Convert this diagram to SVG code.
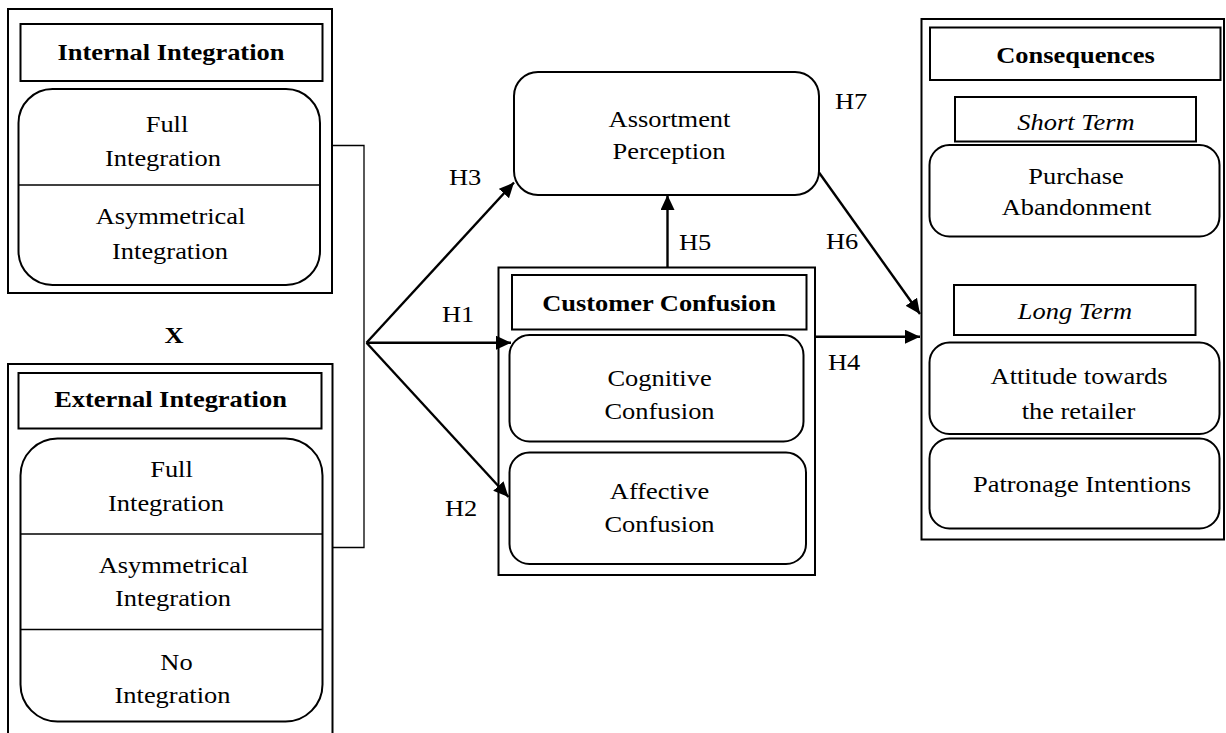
<svg xmlns="http://www.w3.org/2000/svg" width="1226" height="733" viewBox="0 0 1226 733">
<style>
.box{fill:none;stroke:#000;stroke-width:2}
.rbox{fill:none;stroke:#000;stroke-width:2}
.div{stroke:#000;stroke-width:1.3}
.thin{fill:none;stroke:#000;stroke-width:1.3}
.arr{fill:none;stroke:#000;stroke-width:2.4}
text{font-family:"Liberation Serif","Times New Roman",serif;font-size:23px;fill:#000}
.c{text-anchor:middle}
.b{font-weight:bold}
.i{font-style:italic}
</style>
<defs>
<marker id="ah" markerUnits="userSpaceOnUse" markerWidth="16" markerHeight="14" refX="15" refY="7" orient="auto">
<path d="M0,0 L15,7 L0,14 z" fill="#000"/>
</marker>
</defs>
<rect width="1226" height="733" fill="#fff"/>

<g id="internal">
<rect class="box" x="8" y="9" width="324" height="284"/>
<rect class="box" x="20.5" y="24" width="302" height="57"/>
<text class="c b" transform="translate(171,60) scale(1.15,1)">Internal Integration</text>
<rect class="rbox" x="18.5" y="89" width="301.5" height="196" rx="34"/>
<line class="div" x1="19" y1="185" x2="320" y2="185"/>
<text class="c" transform="translate(167,131.5) scale(1.15,1)">Full</text>
<text class="c" transform="translate(163,165.5) scale(1.15,1)">Integration</text>
<text class="c" transform="translate(170.5,224) scale(1.15,1)">Asymmetrical</text>
<text class="c" transform="translate(170,258.5) scale(1.15,1)">Integration</text>
</g>

<g id="x-label">
<text class="c b" transform="translate(174,343) scale(1.15,1)">X</text>
</g>

<g id="external">
<path class="box" d="M8,740 V364 H332.5 V740"/>
<rect class="box" x="18.5" y="373" width="303" height="55.5"/>
<text class="c b" transform="translate(170.5,407) scale(1.15,1)">External Integration</text>
<rect class="rbox" x="20.5" y="438.5" width="302" height="283" rx="37"/>
<line class="div" x1="21" y1="534" x2="322" y2="534"/>
<line class="div" x1="21" y1="629.5" x2="322" y2="629.5"/>
<text class="c" transform="translate(171.5,477) scale(1.15,1)">Full</text>
<text class="c" transform="translate(166,510.5) scale(1.15,1)">Integration</text>
<text class="c" transform="translate(173.5,573) scale(1.15,1)">Asymmetrical</text>
<text class="c" transform="translate(173,606) scale(1.15,1)">Integration</text>
<text class="c" transform="translate(176.5,670) scale(1.15,1)">No</text>
<text class="c" transform="translate(172.5,703) scale(1.15,1)">Integration</text>
</g>

<g id="assortment">
<rect class="rbox" x="514" y="72" width="305" height="123" rx="24"/>
<text class="c" transform="translate(669.5,126.5) scale(1.15,1)">Assortment</text>
<text class="c" transform="translate(669,159) scale(1.15,1)">Perception</text>
</g>

<g id="confusion">
<rect class="box" x="498.5" y="267.5" width="316.5" height="307.5"/>
<rect class="box" x="512" y="275" width="294.5" height="54.5"/>
<text class="c b" transform="translate(659,310.5) scale(1.15,1)">Customer Confusion</text>
<rect class="rbox" x="509.5" y="335" width="294" height="106.5" rx="20"/>
<text class="c" transform="translate(659.5,386) scale(1.15,1)">Cognitive</text>
<text class="c" transform="translate(659.5,418.5) scale(1.15,1)">Confusion</text>
<rect class="rbox" x="509.5" y="452.5" width="296.5" height="111.5" rx="20"/>
<text class="c" transform="translate(659.5,498.5) scale(1.15,1)">Affective</text>
<text class="c" transform="translate(659.5,531.5) scale(1.15,1)">Confusion</text>
</g>

<g id="consequences">
<rect class="box" x="921.5" y="19" width="302.5" height="520.5"/>
<rect class="box" x="930" y="27.5" width="290.5" height="52.5"/>
<text class="c b" transform="translate(1075.5,62.5) scale(1.15,1)">Consequences</text>
<rect class="box" x="955" y="97" width="241" height="44.5"/>
<text class="c i" transform="translate(1076,129.5) scale(1.15,1)">Short Term</text>
<rect class="rbox" x="929.5" y="145" width="290" height="91.5" rx="20"/>
<text class="c" transform="translate(1076,184) scale(1.15,1)">Purchase</text>
<text class="c" transform="translate(1076.5,215) scale(1.15,1)">Abandonment</text>
<rect class="box" x="954" y="285" width="241.5" height="50"/>
<text class="c i" transform="translate(1075,318.5) scale(1.15,1)">Long Term</text>
<rect class="rbox" x="929.5" y="342.5" width="290" height="91.5" rx="20"/>
<text class="c" transform="translate(1079,384) scale(1.15,1)">Attitude towards</text>
<text class="c" transform="translate(1078.5,418.5) scale(1.15,1)">the retailer</text>
<rect class="rbox" x="929.5" y="438.5" width="290" height="90" rx="20"/>
<text class="c" transform="translate(1082,491.5) scale(1.15,1)">Patronage Intentions</text>
</g>

<g id="connectors">
<path class="thin" d="M332,145.5 H364 V547.5 H333"/>
<line class="arr" x1="366.5" y1="342.7" x2="514" y2="182.5" marker-end="url(#ah)"/>
<line class="arr" x1="366.5" y1="342.7" x2="511" y2="342.7" marker-end="url(#ah)"/>
<line class="arr" x1="366.5" y1="342.7" x2="508.5" y2="497" marker-end="url(#ah)"/>
<line class="arr" x1="667.5" y1="267.5" x2="667.5" y2="195" marker-end="url(#ah)"/>
<line class="arr" x1="815" y1="336.7" x2="920" y2="336.7" marker-end="url(#ah)"/>
<line class="arr" x1="819" y1="172.5" x2="920" y2="314" marker-end="url(#ah)"/>
<text transform="translate(449,185) scale(1.15,1)">H3</text>
<text transform="translate(442,321.5) scale(1.15,1)">H1</text>
<text transform="translate(445,516) scale(1.15,1)">H2</text>
<text transform="translate(679,249.5) scale(1.15,1)">H5</text>
<text transform="translate(828,369.5) scale(1.15,1)">H4</text>
<text transform="translate(826,248.5) scale(1.15,1)">H6</text>
<text transform="translate(835,108.5) scale(1.15,1)">H7</text>
</g>
</svg>
